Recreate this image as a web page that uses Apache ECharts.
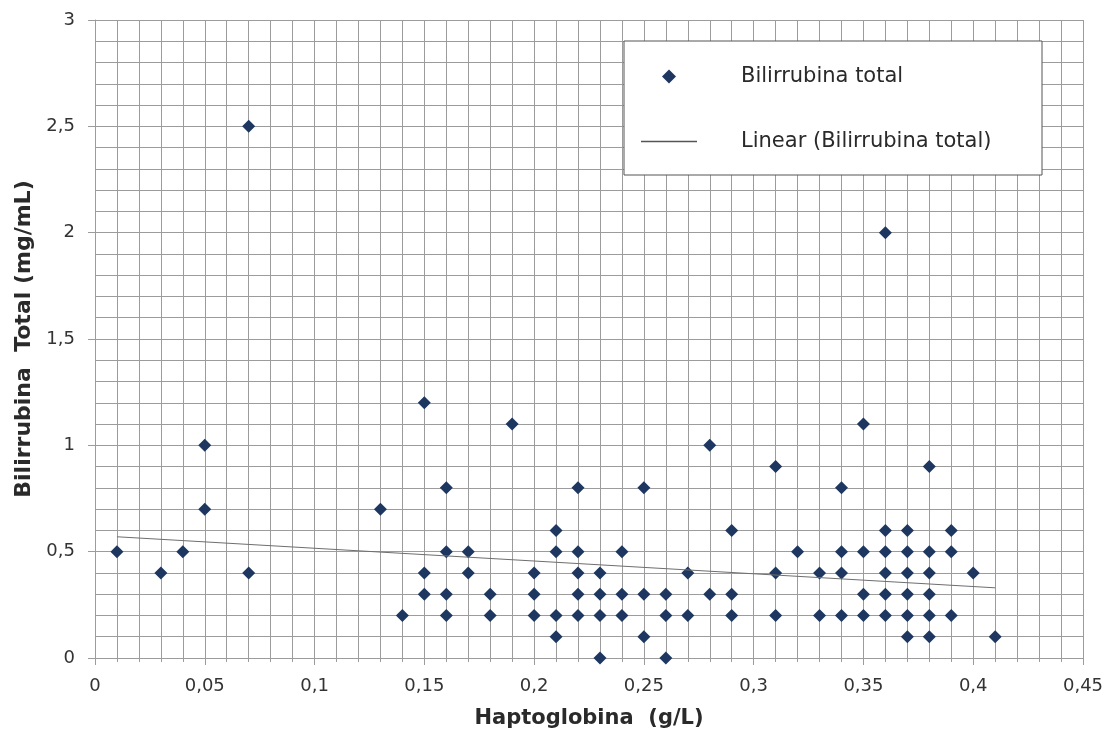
<!DOCTYPE html>
<html>
<head>
<meta charset="utf-8">
<title>Bilirrubina vs Haptoglobina</title>
<script src="https://cdn.jsdelivr.net/npm/echarts@6/dist/echarts.min.js"></script>
<style>
  html, body { margin: 0; padding: 0; background: #fff; }
  #chart { width: 1113px; height: 738px; }
</style>
</head>
<body>
<div id="chart"></div>
<script>
// Haptoglobina (g/L) and Bilirrubina total (mg/mL)
var hapto = [
  0.01, 0.03, 0.04, 0.05, 0.05, 0.07, 0.07, 0.13, 0.14,
  0.15, 0.15, 0.15, 0.16, 0.16, 0.16, 0.16, 0.17, 0.17, 0.18, 0.18, 0.19,
  0.20, 0.20, 0.20, 0.21, 0.21, 0.21, 0.21, 0.22, 0.22, 0.22, 0.22, 0.22,
  0.23, 0.23, 0.23, 0.23, 0.24, 0.24, 0.24, 0.25, 0.25, 0.25, 0.26, 0.26, 0.26,
  0.27, 0.27, 0.28, 0.28, 0.29, 0.29, 0.29, 0.31, 0.31, 0.31, 0.32, 0.33, 0.33,
  0.34, 0.34, 0.34, 0.34, 0.35, 0.35, 0.35, 0.35,
  0.36, 0.36, 0.36, 0.36, 0.36, 0.36, 0.37, 0.37, 0.37, 0.37, 0.37, 0.37,
  0.38, 0.38, 0.38, 0.38, 0.38, 0.38, 0.39, 0.39, 0.39, 0.40, 0.41
];
var bili = [
  0.5, 0.4, 0.5, 1.0, 0.7, 2.5, 0.4, 0.7, 0.2,
  1.2, 0.4, 0.3, 0.8, 0.5, 0.3, 0.2, 0.5, 0.4, 0.3, 0.2, 1.1,
  0.4, 0.3, 0.2, 0.6, 0.5, 0.2, 0.1, 0.8, 0.5, 0.4, 0.3, 0.2,
  0.4, 0.3, 0.2, 0.0, 0.5, 0.3, 0.2, 0.8, 0.3, 0.1, 0.3, 0.2, 0.0,
  0.4, 0.2, 1.0, 0.3, 0.6, 0.3, 0.2, 0.9, 0.4, 0.2, 0.5, 0.4, 0.2,
  0.8, 0.5, 0.4, 0.2, 1.1, 0.5, 0.3, 0.2,
  2.0, 0.6, 0.5, 0.4, 0.3, 0.2, 0.6, 0.5, 0.4, 0.3, 0.2, 0.1,
  0.9, 0.5, 0.4, 0.3, 0.2, 0.1, 0.6, 0.5, 0.2, 0.4, 0.1
];
// linear trendline ends, as drawn
var trendX = [0.01, 0.41];
var trendY = [0.57, 0.33];

var seriesNames = ['Bilirrubina total', 'Linear (Bilirrubina total)'];

var points = hapto.map(function (h, i) { return [h, bili[i]]; });
var trend = trendX.map(function (t, i) { return [t, trendY[i]]; });

function comma(v) {
  return String(+v.toFixed(2)).replace('.', ',');
}

var font = 'DejaVu Sans, Verdana, sans-serif';
var gridColor = '#9c9c9c';
var labelFont = { color: '#333', fontSize: 18, fontFamily: font };
var nameFont = { color: '#2a2a2a', fontWeight: 'bold', fontFamily: font };

var chart = echarts.init(document.getElementById('chart'));
chart.setOption({
  animation: false,
  backgroundColor: '#fff',
  grid: { left: 95, right: 30, top: 20, bottom: 80 },
  xAxis: {
    type: 'value',
    min: 0, max: 0.45, interval: 0.05,
    name: 'Haptoglobina  (g/L)',
    nameLocation: 'middle',
    nameGap: 50,
    nameTextStyle: Object.assign({ fontSize: 21 }, nameFont),
    axisLine: { show: true, lineStyle: { color: gridColor, width: 1 } },
    axisTick: { show: true, length: 7, lineStyle: { color: gridColor } },
    minorTick: { show: true, splitNumber: 5, length: 4, lineStyle: { color: gridColor } },
    axisLabel: Object.assign({ margin: 19, formatter: comma }, labelFont),
    splitLine: { show: true, lineStyle: { color: gridColor, width: 1 } },
    minorSplitLine: { show: true, lineStyle: { color: gridColor, width: 1 } }
  },
  yAxis: {
    type: 'value',
    min: 0, max: 3, interval: 0.5,
    name: 'Bilirrubina  Total (mg/mL)',
    nameLocation: 'middle',
    nameGap: 58,
    nameTextStyle: Object.assign({ fontSize: 22 }, nameFont),
    axisLine: { show: true, lineStyle: { color: gridColor, width: 1 } },
    axisTick: { show: true, length: 7, lineStyle: { color: gridColor } },
    minorTick: { show: false, splitNumber: 5 },
    axisLabel: Object.assign({ margin: 20, formatter: comma }, labelFont),
    splitLine: { show: true, lineStyle: { color: gridColor, width: 1 } },
    minorSplitLine: { show: true, lineStyle: { color: gridColor, width: 1 } }
  },
  graphic: [
    {
      type: 'rect', z: 3,
      shape: { x: 624, y: 41, width: 418, height: 134 },
      style: { fill: '#fff', stroke: '#555', lineWidth: 1 }
    }
  ],
  legend: {
    orient: 'vertical',
    left: 641, top: 66,
    padding: 0,
    z: 5,
    itemWidth: 56, itemHeight: 14,
    itemGap: 44,
    symbolKeepAspect: true,
    textStyle: { color: '#2a2a2a', fontSize: 21, lineHeight: 20, padding: [0, 0, 0, 39], fontFamily: font },
    data: [
      { name: seriesNames[0], icon: 'path://M0,-1 L1,0 L0,1 L-1,0 Z' },
      { name: seriesNames[1], icon: 'path://M0,0 H40 V1 H0 Z', itemStyle: { color: '#555' } }
    ]
  },
  series: [
    {
      name: seriesNames[0],
      type: 'scatter',
      symbol: 'diamond',
      symbolSize: 13,
      itemStyle: { color: '#1d3760', opacity: 1 },
      data: points
    },
    {
      name: seriesNames[1],
      type: 'line',
      symbol: 'none',
      itemStyle: { color: '#6e6e6e' },
      lineStyle: { color: '#6e6e6e', width: 1 },
      data: trend
    }
  ]
});
</script>
</body>
</html>
